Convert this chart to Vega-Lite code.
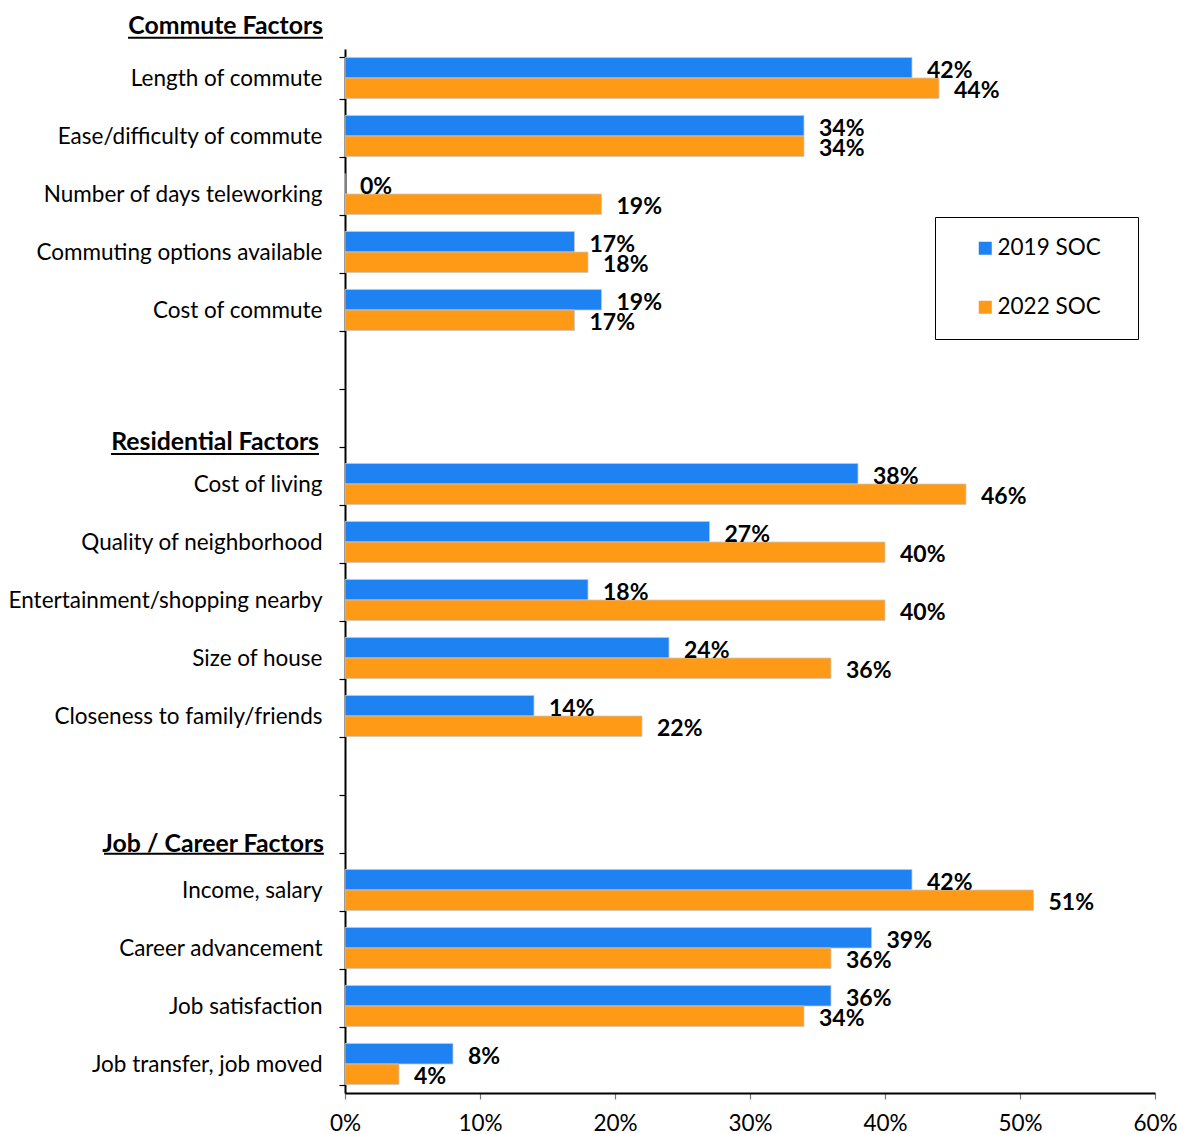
{
  "$schema": "https://vega.github.io/schema/vega-lite/v6.json",
  "autosize": {"type": "none"},
  "padding": {"left": 345, "top": 49, "right": 22, "bottom": 41},
  "width": 810,
  "height": 1044,
  "background": "white",
  "config": {
    "font": "Lato",
    "view": {"stroke": null},
    "axis": {"labelFont": "Lato", "labelColor": "#000000"},
    "text": {"font": "Lato"}
  },
  "datasets": {
    "bars": [
      {"item": "Length of commute", "series": "2019 SOC", "value": 0.42},
      {"item": "Length of commute", "series": "2022 SOC", "value": 0.44},
      {"item": "Ease/difficulty of commute", "series": "2019 SOC", "value": 0.34},
      {"item": "Ease/difficulty of commute", "series": "2022 SOC", "value": 0.34},
      {"item": "Number of days teleworking", "series": "2019 SOC", "value": 0.0},
      {"item": "Number of days teleworking", "series": "2022 SOC", "value": 0.19},
      {"item": "Commuting options available", "series": "2019 SOC", "value": 0.17},
      {"item": "Commuting options available", "series": "2022 SOC", "value": 0.18},
      {"item": "Cost of commute", "series": "2019 SOC", "value": 0.19},
      {"item": "Cost of commute", "series": "2022 SOC", "value": 0.17},
      {"item": "Cost of living", "series": "2019 SOC", "value": 0.38},
      {"item": "Cost of living", "series": "2022 SOC", "value": 0.46},
      {"item": "Quality of neighborhood", "series": "2019 SOC", "value": 0.27},
      {"item": "Quality of neighborhood", "series": "2022 SOC", "value": 0.40},
      {"item": "Entertainment/shopping nearby", "series": "2019 SOC", "value": 0.18},
      {"item": "Entertainment/shopping nearby", "series": "2022 SOC", "value": 0.40},
      {"item": "Size of house", "series": "2019 SOC", "value": 0.24},
      {"item": "Size of house", "series": "2022 SOC", "value": 0.36},
      {"item": "Closeness to family/friends", "series": "2019 SOC", "value": 0.14},
      {"item": "Closeness to family/friends", "series": "2022 SOC", "value": 0.22},
      {"item": "Income, salary", "series": "2019 SOC", "value": 0.42},
      {"item": "Income, salary", "series": "2022 SOC", "value": 0.51},
      {"item": "Career advancement", "series": "2019 SOC", "value": 0.39},
      {"item": "Career advancement", "series": "2022 SOC", "value": 0.36},
      {"item": "Job satisfaction", "series": "2019 SOC", "value": 0.36},
      {"item": "Job satisfaction", "series": "2022 SOC", "value": 0.34},
      {"item": "Job transfer, job moved", "series": "2019 SOC", "value": 0.08},
      {"item": "Job transfer, job moved", "series": "2022 SOC", "value": 0.04}
    ]
  },
  "layer": [
    {
      "data": {"name": "bars"},
      "mark": {"type": "bar", "stroke": "#c8c8c8", "strokeWidth": 0.8},
      "encoding": {
        "y": {
          "field": "item", "type": "nominal",
          "scale": {"domain": ["Length of commute", "Ease/difficulty of commute", "Number of days teleworking", "Commuting options available", "Cost of commute", " ", "  ", "Cost of living", "Quality of neighborhood", "Entertainment/shopping nearby", "Size of house", "Closeness to family/friends", "   ", "    ", "Income, salary", "Career advancement", "Job satisfaction", "Job transfer, job moved"], "paddingInner": 0.29, "paddingOuter": 0.145},
          "axis": {"title": null, "labelFontSize": 22.5, "labelLimit": 400, "labelPadding": 17, "tickSize": 6, "tickBand": "extent", "tickColor": "#000000", "tickWidth": 1.2, "domainColor": "#000000", "domainWidth": 2}
        },
        "yOffset": {"field": "series", "type": "nominal", "scale": {"domain": ["2019 SOC", "2022 SOC"], "paddingInner": 0, "paddingOuter": 0}},
        "x": {
          "field": "value", "type": "quantitative",
          "scale": {"domain": [0, 0.6], "nice": false},
          "axis": {"title": null, "values": [0, 0.1, 0.2, 0.3, 0.4, 0.5, 0.6], "format": ".0%", "labelFontSize": 22.5, "labelPadding": 13, "tickSize": 6, "tickColor": "#777777", "tickWidth": 1.2, "domainColor": "#000000", "domainWidth": 2, "grid": false, "labelFlush": false}
        },
        "color": {
          "field": "series", "type": "nominal",
          "scale": {"domain": ["2019 SOC", "2022 SOC"], "range": ["#1F82F2", "#FF9A16"]},
          "legend": {"title": null, "orient": "none", "legendX": 590, "legendY": 168, "direction": "vertical", "strokeColor": "#000000", "padding": 20, "symbolType": "square", "symbolSize": 169, "symbolStrokeWidth": 0, "symbolOffset": 19, "labelFontSize": 22.5, "labelOffset": 1, "rowPadding": 36, "labelColor": "#000000", "labelExpr": "datum.label + '\u2800'", "encode": {"legend": {"update": {"strokeWidth": {"value": 1.5}}}}}
        }
      }
    },
    {
      "data": {"name": "bars"},
      "mark": {"type": "text", "align": "left", "baseline": "middle", "dx": 15, "dy": 3, "fontSize": 23, "fontWeight": "bold", "color": "#000000"},
      "encoding": {
        "y": {"field": "item", "type": "nominal", "scale": {"domain": ["Length of commute", "Ease/difficulty of commute", "Number of days teleworking", "Commuting options available", "Cost of commute", " ", "  ", "Cost of living", "Quality of neighborhood", "Entertainment/shopping nearby", "Size of house", "Closeness to family/friends", "   ", "    ", "Income, salary", "Career advancement", "Job satisfaction", "Job transfer, job moved"], "paddingInner": 0.29, "paddingOuter": 0.145}},
        "yOffset": {"field": "series", "type": "nominal", "scale": {"domain": ["2019 SOC", "2022 SOC"], "paddingInner": 0, "paddingOuter": 0}},
        "x": {"field": "value", "type": "quantitative"},
        "text": {"field": "value", "type": "quantitative", "format": ".0%"}
      }
    },
    {
      "data": {"values": [{"header": "Commute Factors", "item": "Length of commute"}]},
      "mark": {"type": "text", "align": "right", "baseline": "alphabetic", "dx": -22, "dy": -44, "fontSize": 24.8, "fontWeight": "bold", "color": "#000000"},
      "encoding": {
        "y": {"field": "item", "type": "nominal"},
        "x": {"datum": 0},
        "text": {"field": "header"}
      }
    },
    {
      "data": {"values": [{"header": "Residential Factors", "item": "Cost of living"}]},
      "mark": {"type": "text", "align": "right", "baseline": "alphabetic", "dx": -26, "dy": -34, "fontSize": 24.8, "fontWeight": "bold", "color": "#000000"},
      "encoding": {
        "y": {"field": "item", "type": "nominal"},
        "x": {"datum": 0},
        "text": {"field": "header"}
      }
    },
    {
      "data": {"values": [{"header": "Job / Career Factors", "item": "Income, salary"}]},
      "mark": {"type": "text", "align": "right", "baseline": "alphabetic", "dx": -21, "dy": -38, "fontSize": 24.8, "fontWeight": "bold", "color": "#000000"},
      "encoding": {
        "y": {"field": "item", "type": "nominal"},
        "x": {"datum": 0},
        "text": {"field": "header"}
      }
    },
    {
      "data": {"values": [{"item": "Length of commute"}]},
      "mark": {"type": "rule", "color": "#000000", "strokeWidth": 2},
      "encoding": {
        "y": {"field": "item", "type": "nominal", "bandPosition": -0.479},
        "x": {"datum": -0.1607},
        "x2": {"datum": -0.0163}
      }
    },
    {
      "data": {"values": [{"item": "Cost of living"}]},
      "mark": {"type": "rule", "color": "#000000", "strokeWidth": 2},
      "encoding": {
        "y": {"field": "item", "type": "nominal", "bandPosition": -0.228},
        "x": {"datum": -0.1733},
        "x2": {"datum": -0.0193}
      }
    },
    {
      "data": {"values": [{"item": "Income, salary"}]},
      "mark": {"type": "rule", "color": "#000000", "strokeWidth": 2},
      "encoding": {
        "y": {"field": "item", "type": "nominal", "bandPosition": -0.381},
        "x": {"datum": -0.1785},
        "x2": {"datum": -0.0156}
      }
    }
  ]
}
